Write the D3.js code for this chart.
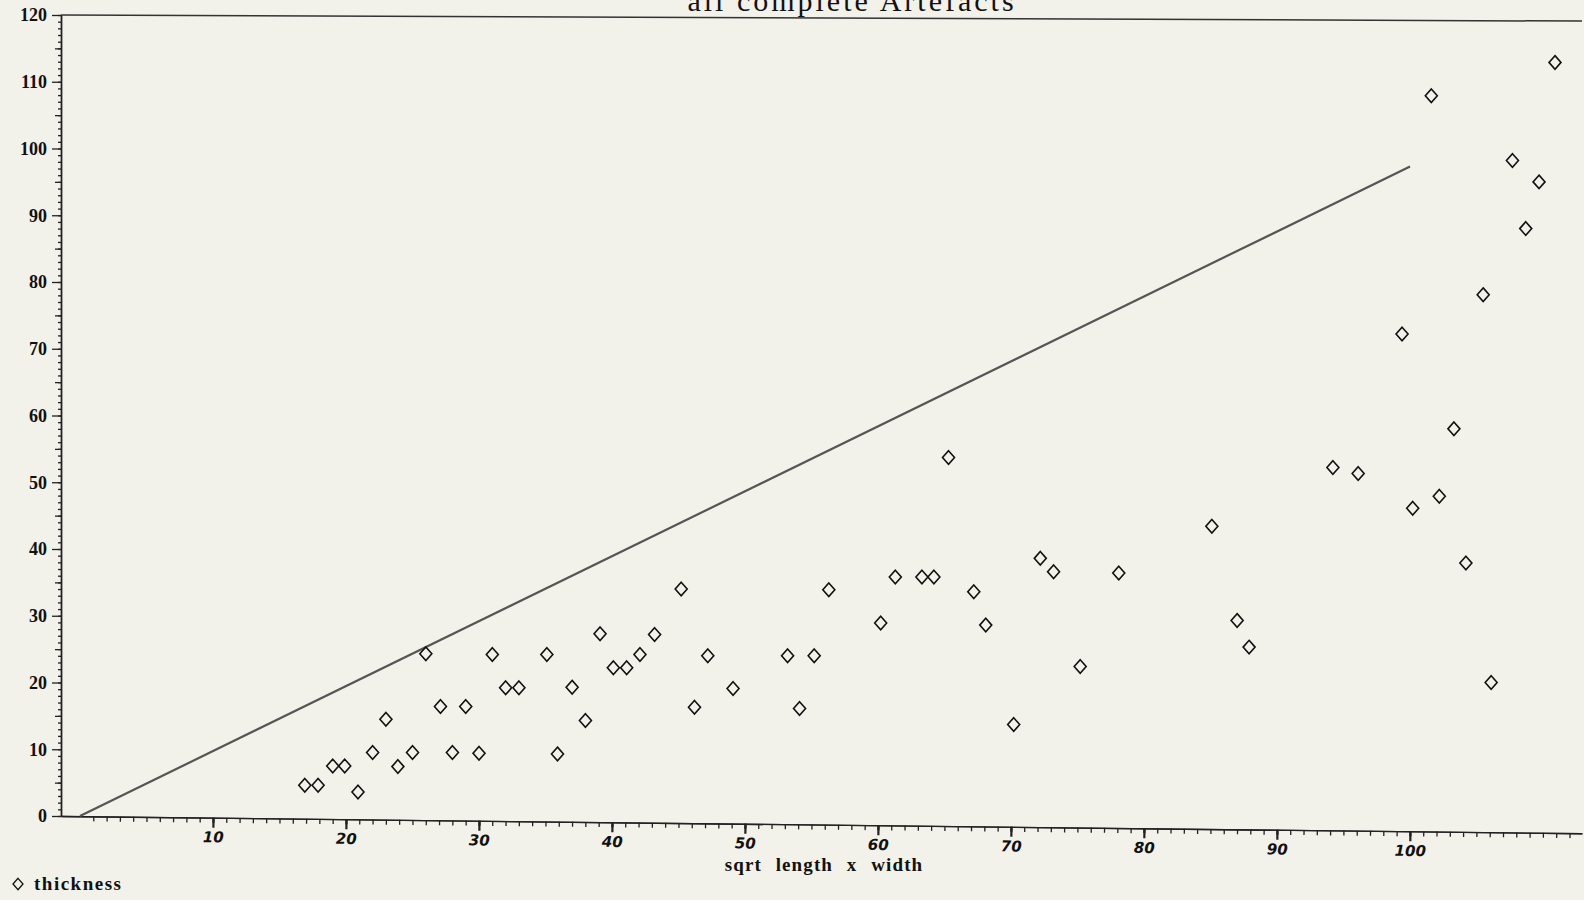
<!DOCTYPE html>
<html>
<head>
<meta charset="utf-8">
<script src="https://cdn.jsdelivr.net/npm/d3@7"></script>
<style>
  body { margin: 0; background: #f2f1ea; }
  svg { display: block; }
</style>
</head>
<body>
<div id="chart"></div>
<script>
// sqrt(length x width) of each artefact
const sqrtLW = [16.9, 17.9, 19.0, 19.9, 20.9, 22.0, 23.0, 23.9, 25.0, 26.0,
  27.1, 28.0, 29.0, 30.0, 31.0, 32.0, 33.0, 35.1, 35.9, 37.0,
  38.0, 39.1, 40.1, 41.1, 42.1, 43.2, 45.2, 46.2, 47.2, 49.1,
  53.2, 54.1, 55.2, 56.3, 60.2, 61.3, 63.3, 64.2, 65.3, 67.2,
  68.1, 70.2, 72.2, 73.2, 75.2, 78.1, 85.1, 87.0, 87.9, 94.2,
  96.1, 99.4, 100.2, 101.6, 102.2, 103.3, 104.2, 105.5, 106.1, 107.7,
  108.7, 109.7, 110.9]
// thickness of each artefact
const thickness = [4.6, 4.6, 7.5, 7.5, 3.6, 9.5, 14.5, 7.4, 9.5, 24.3,
  16.4, 9.5, 16.4, 9.4, 24.2, 19.2, 19.2, 24.2, 9.3, 19.3,
  14.3, 27.3, 22.2, 22.2, 24.2, 27.2, 34.0, 16.3, 24.0, 19.1,
  24.0, 16.1, 24.0, 33.9, 28.9, 35.8, 35.8, 35.8, 53.7, 33.6,
  28.6, 13.7, 38.6, 36.6, 22.4, 36.4, 43.4, 29.3, 25.3, 52.2,
  51.3, 72.2, 46.1, 107.9, 47.9, 58.0, 37.9, 78.1, 20.0, 98.2,
  88.0, 95.0, 112.9]
// the straight line drawn across the plot
const lineX = [0, 100]
const lineY = [0, 97.3]

const yTicks = [0, 10, 20, 30, 40, 50, 60, 70, 80, 90, 100, 110, 120]
const xTicks = [10, 20, 30, 40, 50, 60, 70, 80, 90, 100]

const width = 1584, height = 900

const svg = d3.select("#chart")
  .append("svg")
  .attr("width", width)
  .attr("height", height)

svg.append("rect").attr("width", width).attr("height", height).attr("fill", "#f2f1ea")

const x = d3.scaleLinear().domain([-1.43, 112.93]).range([61, 1582])
const y = d3.scaleLinear().domain([0, 120]).range([816, 15])

// title, cut off at the top like the scan
svg.append("text")
  .attr("x", 852).attr("y", 11)
  .attr("text-anchor", "middle")
  .style("font-family", "'Liberation Serif', serif")
  .style("font-size", "30px")
  .style("letter-spacing", "3px")
  .attr("fill", "#111")
  .text("all complete Artefacts")

// top frame line (slightly tilted in the scan)
svg.append("line")
  .attr("x1", x.range()[0]).attr("x2", x.range()[1])
  .attr("y1", y(120)).attr("y2", y(120))
  .attr("transform", `rotate(0.23, ${x.range()[0]}, ${y(120)})`)
  .attr("stroke", "#333").attr("stroke-width", 1.5)

// Y axis: minor ticks every unit, medium at 5s, labelled at 10s
const yg = svg.append("g").attr("transform", `translate(${x.range()[0]},0)`)
yg.append("g")
  .call(d3.axisLeft(y).tickValues(d3.range(0, 121)).tickSize(3).tickSizeOuter(0).tickFormat(""))
yg.append("g")
  .call(d3.axisLeft(y).tickValues(d3.range(5, 120, 10)).tickSize(6).tickSizeOuter(0).tickFormat(""))
yg.append("g")
  .call(d3.axisLeft(y).tickValues(yTicks).tickSize(9).tickPadding(5).tickSizeOuter(0).tickFormat(d3.format("d")))
  .selectAll("text")
  .style("font-family", "'Liberation Serif', serif")
  .style("font-size", "18px")
  .style("font-weight", "bold")
  .attr("fill", "#111")
yg.selectAll("path, line").attr("stroke", "#222").attr("stroke-width", 1.3)

// X axis: minor ticks every unit, hand lettered labels at 10s
const xg = svg.append("g")
  .attr("transform", `translate(0,${y(0)}) rotate(0.65, ${x.range()[0]}, 0)`)
xg.append("g")
  .call(d3.axisBottom(x).tickValues(d3.range(1, 113)).tickSize(5).tickSizeOuter(0).tickFormat(""))
xg.append("g")
  .call(d3.axisBottom(x).tickValues(xTicks).tickSize(10).tickPadding(4).tickSizeOuter(0))
  .selectAll("text")
  .style("font-family", "'DejaVu Sans', sans-serif")
  .style("font-size", "15px")
  .style("font-style", "italic")
  .style("font-weight", "bold")
  .attr("fill", "#111")
xg.selectAll("path, line").attr("stroke", "#222").attr("stroke-width", 1.3)
xg.selectAll(".tick line").filter(function(d) { return xTicks.includes(d) }).attr("stroke-width", 2.2)

svg.append("text")
  .attr("x", 824).attr("y", 871)
  .attr("text-anchor", "middle")
  .style("font-family", "'Liberation Serif', serif")
  .style("font-size", "19px")
  .style("font-weight", "bold")
  .style("letter-spacing", "1.1px")
  .style("word-spacing", "8px")
  .attr("fill", "#111")
  .text("sqrt length x width")

// fitted line
const line = d3.line().x(d => x(d[0])).y(d => y(d[1]))
svg.append("path")
  .datum(d3.zip(lineX, lineY))
  .attr("d", line)
  .attr("fill", "none")
  .attr("stroke", "#555")
  .attr("stroke-width", 2.2)

// open diamonds, a bit taller than wide
const diamond = {
  draw(ctx, size) {
    const r = Math.sqrt(size) / 2, h = r * 1.13
    ctx.moveTo(0, -h); ctx.lineTo(r, 0); ctx.lineTo(0, h); ctx.lineTo(-r, 0); ctx.closePath()
  }
}
const sym = d3.symbol().type(diamond).size(144)

svg.append("g")
  .selectAll("path")
  .data(d3.zip(sqrtLW, thickness))
  .join("path")
  .attr("transform", d => `translate(${x(d[0])},${y(d[1])})`)
  .attr("d", sym)
  .attr("fill", "none")
  .attr("stroke", "#111")
  .attr("stroke-width", 1.6)

// legend
svg.append("path")
  .attr("transform", "translate(18,884)")
  .attr("d", d3.symbol().type(diamond).size(100))
  .attr("fill", "none").attr("stroke", "#111").attr("stroke-width", 1.3)
svg.append("text")
  .attr("x", 34).attr("y", 890)
  .style("font-family", "'Liberation Serif', serif")
  .style("font-size", "19px")
  .style("font-weight", "bold")
  .style("letter-spacing", "1.5px")
  .attr("fill", "#111")
  .text("thickness")
</script>
</body>
</html>
